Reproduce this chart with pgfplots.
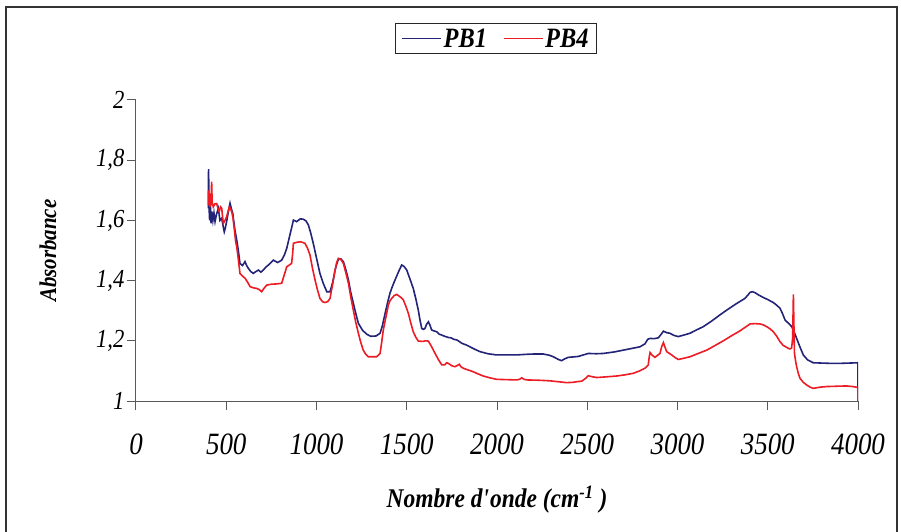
\documentclass[border=0pt]{standalone}
\usepackage{fontspec}
\setmainfont{Liberation Serif}
\newfontfamily\cf[FakeStretch=0.87]{Liberation Serif}
\usepackage{pgfplots}
\pgfplotsset{compat=1.18}
\definecolor{pbblue}{RGB}{35,35,120}
\definecolor{pbred}{RGB}{237,28,36}
\begin{document}
\begin{tikzpicture}
\begin{axis}[
  at={(0pt,0pt)}, anchor=south west,
  scale only axis, width=722pt, height=301pt,
  xmin=0, xmax=4000, ymin=1, ymax=2,
  axis x line*=bottom, axis y line*=left,
  axis line style={-, black!65, line width=1pt},
  xtick={0,500,1000,1500,2000,2500,3000,3500,4000},
  ytick={1,1.2,1.4,1.6,1.8,2},
  tick align=outside, major tick length=9pt,
  tick style={black!65, line width=1pt},
  /pgf/number format/assume math mode=true,
  yticklabel style={/pgf/number format/use comma, /pgf/number format/fixed, /pgf/number format/precision=1, font=\cf\itshape\fontsize{26}{28}\selectfont, xshift=1pt},
  xticklabel style={/pgf/number format/1000 sep={}, font=\cf\itshape\fontsize{31}{33}\selectfont, yshift=-20pt},
  xlabel={Nombre d\textquotesingle onde (cm\textsuperscript{-1} )},
  xlabel style={at={(axis description cs:0.5,-0.329)}, anchor=center, font=\cf\bfseries\itshape\fontsize{27}{29}\selectfont},
  ylabel={Absorbance},
  ylabel style={at={(axis description cs:-0.122,0.5)}, anchor=center, rotate=0, font=\cf\bfseries\itshape\fontsize{24}{26}\selectfont},
  legend columns=2,
  legend style={at={(axis description cs:0.4986,1.203)}, anchor=center, draw=black!85, line width=1pt,
    font=\cf\bfseries\itshape\fontsize{28}{30}\selectfont, inner xsep=6pt, inner ysep=3pt,
    /tikz/every even column/.append style={column sep=14pt}},
  legend image code/.code={\draw[#1, line width=1.2pt] (0pt,0pt) -- (39pt,0pt);},
]
\addplot[pbblue, line width=1.6pt] coordinates {
(401,1.64) (402,1.77) (405,1.64) (408,1.60) (412,1.65) (416,1.59) (420,1.63) (426,1.60) (432,1.625) (438,1.596) (446,1.62) (456,1.640) (465,1.60) (475,1.607) (483,1.58) (489,1.562) (495,1.575) (502,1.596) (512,1.63) (521,1.657) (528,1.64) (536,1.623) (548,1.568) (558,1.535) (567,1.50) (576,1.457) (590,1.45) (604,1.463) (613,1.45) (622,1.441) (636,1.43) (650,1.424) (664,1.43) (678,1.435) (692,1.428) (705,1.435) (720,1.445) (740,1.455) (761,1.468) (785,1.46) (807,1.468) (822,1.485) (835,1.507) (850,1.545) (862,1.575) (872,1.601) (890,1.596) (910,1.605) (927,1.604) (942,1.598) (955,1.585) (968,1.558) (982,1.524) (1000,1.475) (1019,1.424) (1038,1.39) (1057,1.363) (1075,1.363) (1090,1.395) (1103,1.435) (1112,1.455) (1121,1.47) (1135,1.472) (1149,1.463) (1163,1.435) (1177,1.402) (1190,1.36) (1204,1.325) (1218,1.29) (1232,1.258) (1255,1.235) (1278,1.222) (1300,1.215) (1330,1.216) (1352,1.225) (1365,1.25) (1380,1.291) (1395,1.33) (1407,1.358) (1420,1.38) (1435,1.402) (1455,1.43) (1472,1.452) (1485,1.447) (1500,1.435) (1518,1.405) (1536,1.374) (1550,1.34) (1564,1.302) (1573,1.27) (1583,1.241) (1592,1.238) (1601,1.241) (1610,1.255) (1620,1.263) (1630,1.25) (1638,1.236) (1650,1.233) (1666,1.230) (1680,1.222) (1694,1.219) (1710,1.215) (1730,1.211) (1745,1.21) (1760,1.205) (1777,1.203) (1790,1.198) (1804,1.192) (1830,1.186) (1850,1.180) (1880,1.171) (1906,1.164) (1950,1.157) (1998,1.153) (2050,1.153) (2109,1.153) (2160,1.155) (2200,1.156) (2257,1.156) (2290,1.152) (2312,1.147) (2340,1.138) (2358,1.134) (2375,1.14) (2395,1.145) (2450,1.148) (2506,1.158) (2550,1.157) (2589,1.158) (2650,1.163) (2700,1.169) (2750,1.175) (2792,1.180) (2820,1.19) (2835,1.205) (2848,1.208) (2870,1.207) (2894,1.210) (2910,1.222) (2922,1.232) (2940,1.227) (2958,1.225) (2980,1.218) (3004,1.214) (3035,1.219) (3069,1.225) (3105,1.236) (3143,1.247) (3190,1.266) (3235,1.286) (3280,1.305) (3328,1.324) (3374,1.341) (3390,1.352) (3402,1.361) (3415,1.363) (3429,1.360) (3450,1.352) (3475,1.344) (3500,1.337) (3531,1.327) (3550,1.318) (3568,1.308) (3582,1.29) (3596,1.269) (3615,1.258) (3633,1.247) (3647,1.228) (3660,1.208) (3678,1.18) (3697,1.153) (3720,1.137) (3752,1.127) (3800,1.126) (3850,1.125) (3900,1.125) (3950,1.126) (4000,1.127) (4000,1.0)
};
\addlegendentry{PB1}
\addplot[pbred, line width=1.6pt] coordinates {
(401,1.65) (402,1.70) (404,1.66) (407,1.69) (410,1.645) (413,1.68) (416,1.65) (419,1.729) (422,1.66) (428,1.645) (437,1.655) (447,1.656) (454,1.64) (461,1.629) (468,1.645) (475,1.640) (480,1.61) (484,1.590) (493,1.60) (502,1.612) (510,1.63) (517,1.645) (524,1.638) (530,1.629) (537,1.61) (545,1.568) (552,1.53) (558,1.513) (567,1.47) (576,1.424) (590,1.415) (604,1.408) (618,1.395) (632,1.380) (650,1.376) (669,1.374) (683,1.37) (696,1.363) (710,1.375) (724,1.385) (750,1.388) (780,1.389) (807,1.391) (822,1.42) (835,1.446) (850,1.452) (862,1.457) (868,1.49) (872,1.524) (890,1.527) (909,1.529) (922,1.527) (936,1.524) (950,1.508) (964,1.485) (978,1.44) (992,1.402) (1005,1.37) (1019,1.341) (1033,1.33) (1047,1.327) (1062,1.33) (1075,1.341) (1090,1.39) (1103,1.435) (1112,1.46) (1121,1.474) (1135,1.47) (1149,1.457) (1163,1.425) (1177,1.391) (1190,1.345) (1204,1.302) (1218,1.26) (1232,1.225) (1245,1.195) (1259,1.169) (1273,1.155) (1287,1.147) (1310,1.147) (1333,1.147) (1352,1.158) (1360,1.19) (1370,1.236) (1385,1.28) (1398,1.319) (1407,1.333) (1417,1.341) (1430,1.35) (1444,1.354) (1462,1.347) (1481,1.336) (1495,1.315) (1509,1.291) (1522,1.26) (1536,1.230) (1550,1.212) (1564,1.199) (1590,1.198) (1605,1.2) (1620,1.199) (1638,1.18) (1657,1.158) (1675,1.138) (1694,1.120) (1710,1.12) (1722,1.127) (1730,1.125) (1750,1.117) (1767,1.114) (1780,1.118) (1791,1.122) (1800,1.114) (1813,1.109) (1840,1.103) (1869,1.097) (1895,1.09) (1924,1.083) (1960,1.077) (1998,1.072) (2050,1.071) (2109,1.070) (2125,1.072) (2137,1.077) (2150,1.072) (2165,1.070) (2230,1.069) (2294,1.067) (2340,1.064) (2386,1.061) (2420,1.062) (2441,1.064) (2470,1.066) (2490,1.075) (2506,1.084) (2525,1.081) (2552,1.078) (2600,1.08) (2663,1.083) (2710,1.087) (2755,1.092) (2790,1.100) (2820,1.109) (2838,1.12) (2843,1.145) (2848,1.161) (2860,1.152) (2875,1.145) (2890,1.152) (2903,1.158) (2912,1.18) (2922,1.194) (2930,1.18) (2940,1.164) (2968,1.153) (2985,1.145) (3004,1.138) (3035,1.142) (3069,1.147) (3115,1.158) (3162,1.169) (3210,1.185) (3254,1.200) (3300,1.217) (3346,1.233) (3375,1.245) (3402,1.256) (3430,1.257) (3457,1.256) (3475,1.253) (3494,1.247) (3512,1.24) (3531,1.230) (3550,1.215) (3568,1.197) (3585,1.185) (3605,1.178) (3620,1.173) (3632,1.175) (3638,1.21) (3642,1.354) (3645,1.25) (3648,1.158) (3655,1.13) (3660,1.114) (3670,1.09) (3679,1.075) (3697,1.062) (3716,1.053) (3735,1.046) (3752,1.042) (3790,1.046) (3827,1.048) (3880,1.049) (3937,1.050) (3970,1.048) (4000,1.045) (4000,1.0)
};
\addlegendentry{PB4}
\end{axis}
\draw[black!80, line width=1.5pt] (-130pt,-131pt) -- (-130pt,394pt) -- (761pt,394pt) -- (761pt,-131pt);
\pgfresetboundingbox
\useasboundingbox (-136pt,-131pt) rectangle (765pt,401pt);
\end{tikzpicture}
\end{document}
